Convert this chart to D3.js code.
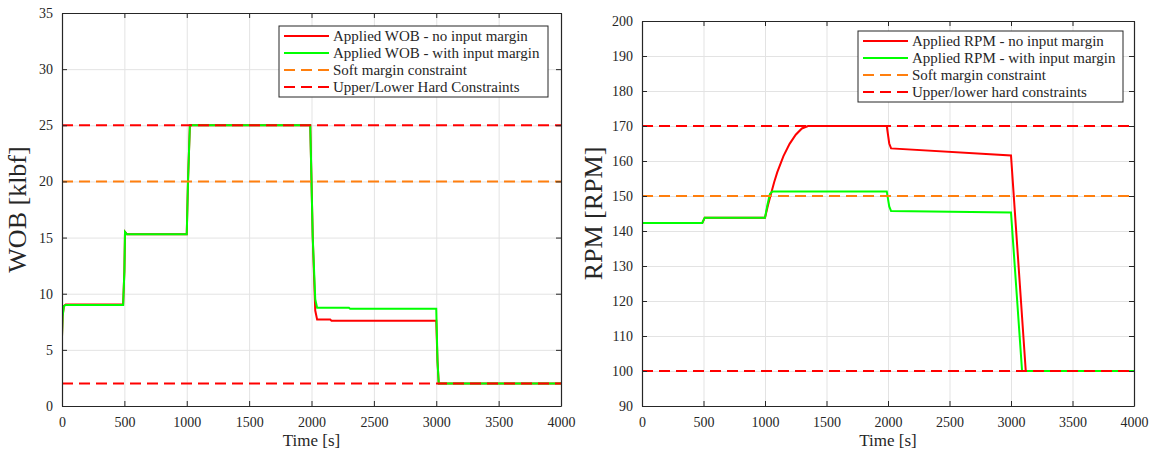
<!DOCTYPE html>
<html>
<head>
<meta charset="utf-8">
<script src="https://cdn.jsdelivr.net/npm/d3@7"></script>
<style>
  body { margin: 0; background: #fff; }
  svg { display: block; }
  .grid line { stroke: #e3e3e3; stroke-width: 1; }
  .grid path { display: none; }
</style>
</head>
<body>
<svg id="chart" width="1158" height="459"></svg>
<script>
// WOB panel data
const wobTimeNo = [0, 5, 15, 30, 490, 500, 505, 520, 1000, 1010, 1025, 1990, 2010, 2030, 2045, 2150, 2160, 3000, 3010, 3020, 4000]
const wobNoMargin = [6.2, 8.0, 8.9, 9.05, 9.05, 12, 15.5, 15.3, 15.3, 20, 25, 25, 15, 8.5, 7.7, 7.7, 7.6, 7.6, 4, 2, 2]
const wobTimeWith = [0, 5, 15, 30, 490, 500, 505, 520, 1000, 1010, 1025, 1990, 2010, 2030, 2045, 2300, 2310, 3000, 3010, 3020, 4000]
const wobWithMargin = [6.2, 8.0, 8.9, 9.0, 9.0, 12, 15.5, 15.3, 15.3, 20, 25, 25, 15, 9.5, 8.75, 8.75, 8.65, 8.65, 4, 2, 2]
const wobSoft = 20
const wobHard = [25, 2]

// RPM panel data
const rpmTimeNo = [0, 490, 510, 1000, 1025, 1050, 1075, 1100, 1150, 1200, 1250, 1300, 1350, 1990, 2010, 2025, 3000, 3120, 4000]
const rpmNoMargin = [142.3, 142.3, 143.8, 143.8, 147.5, 150.8, 154, 156.8, 161.4, 164.9, 167.5, 169.3, 170, 170, 165, 163.6, 161.6, 100, 100]
const rpmTimeWith = [0, 490, 510, 1000, 1020, 1040, 1060, 1990, 2010, 2025, 3000, 3090, 4000]
const rpmWithMargin = [142.3, 142.3, 143.8, 143.8, 147.5, 150.6, 151.3, 151.3, 147, 145.7, 145.3, 100, 100]
const rpmSoft = 150
const rpmHard = [170, 100]

const timeTicks = [0, 500, 1000, 1500, 2000, 2500, 3000, 3500, 4000]
const wobTicks = [0, 5, 10, 15, 20, 25, 30, 35]
const rpmTicks = [90, 100, 110, 120, 130, 140, 150, 160, 170, 180, 190, 200]

const wobLegend = ['Applied WOB - no input margin', 'Applied WOB - with input margin', 'Soft margin constraint', 'Upper/Lower Hard Constraints']
const rpmLegend = ['Applied RPM - no input margin', 'Applied RPM - with input margin', 'Soft margin constraint', 'Upper/lower hard constraints']

const RED = '#ff0000', GREEN = '#00ff00', ORANGE = '#ff7f0e'
const FONT = '"Liberation Serif", "DejaVu Serif", serif'
const INK = '#262626'

const svg = d3.select('#chart')

function drawPanel(opt) {
  const {left, right, top, bottom, yDomain, yTicks, yLabel, labelX,
    tNo, vNo, tWith, vWith, soft, hard, legend, legBox} = opt
  const g = svg.append('g')
  const x = d3.scaleLinear().domain([0, 4000]).range([left, right])
  const y = d3.scaleLinear().domain(yDomain).range([bottom, top])

  // grid
  g.append('g').attr('class', 'grid')
    .attr('transform', `translate(0,${bottom})`)
    .call(d3.axisBottom(x).tickValues(timeTicks).tickSize(-(bottom - top)).tickFormat(''))
  g.append('g').attr('class', 'grid')
    .attr('transform', `translate(${left},0)`)
    .call(d3.axisLeft(y).tickValues(yTicks).tickSize(-(right - left)).tickFormat(''))

  const line = d3.line().x(d => x(d[0])).y(d => y(d[1]))
  const clip = 'clip' + left
  g.append('clipPath').attr('id', clip).append('rect')
    .attr('x', left).attr('y', top).attr('width', right - left).attr('height', bottom - top)
  const plot = g.append('g').attr('clip-path', `url(#${clip})`)

  plot.append('path').datum(d3.zip(tNo, vNo)).attr('d', line)
    .attr('fill', 'none').attr('stroke', RED).attr('stroke-width', 2)
  plot.append('path').datum(d3.zip(tWith, vWith)).attr('d', line)
    .attr('fill', 'none').attr('stroke', GREEN).attr('stroke-width', 2)

  plot.append('line')
    .attr('x1', x(0)).attr('x2', x(4000)).attr('y1', y(soft)).attr('y2', y(soft))
    .attr('stroke', ORANGE).attr('stroke-width', 2).attr('stroke-dasharray', '11,6')
  hard.forEach(h => {
    plot.append('line')
      .attr('x1', x(0)).attr('x2', x(4000)).attr('y1', y(h)).attr('y2', y(h))
      .attr('stroke', RED).attr('stroke-width', 2).attr('stroke-dasharray', '11,6')
  })

  // axes with inward ticks on all sides
  const styleAxis = sel => {
    sel.attr('font-family', FONT)
    sel.select('.domain').attr('stroke', INK).attr('stroke-width', 1.2).attr('fill', 'none')
    sel.selectAll('.tick line').attr('stroke', INK)
    sel.selectAll('.tick text').style('font-family', FONT).style('font-size', '14px').attr('fill', INK)
  }
  const fmt = d3.format('d')
  g.append('g').attr('transform', `translate(0,${bottom})`)
    .call(d3.axisBottom(x).tickValues(timeTicks).tickFormat(fmt).tickSizeInner(-5).tickSizeOuter(0).tickPadding(11))
    .call(styleAxis)
  g.append('g').attr('transform', `translate(0,${top})`)
    .call(d3.axisTop(x).tickValues(timeTicks).tickSizeInner(-5).tickSizeOuter(0).tickFormat(''))
    .call(styleAxis)
  g.append('g').attr('transform', `translate(${left},0)`)
    .call(d3.axisLeft(y).tickValues(yTicks).tickFormat(fmt).tickSizeInner(-5).tickSizeOuter(0).tickPadding(9))
    .call(styleAxis)
  g.append('g').attr('transform', `translate(${right},0)`)
    .call(d3.axisRight(y).tickValues(yTicks).tickSizeInner(-5).tickSizeOuter(0).tickFormat(''))
    .call(styleAxis)

  g.append('text')
    .attr('x', (left + right) / 2).attr('y', 446)
    .attr('text-anchor', 'middle')
    .style('font-family', FONT).style('font-size', '17px').attr('fill', INK)
    .text('Time [s]')
  g.append('text')
    .attr('transform', `translate(${labelX},${(top + bottom) / 2}) rotate(-90)`)
    .attr('text-anchor', 'middle')
    .style('font-family', FONT).style('font-size', '26px').attr('fill', INK)
    .text(yLabel)

  // legend
  const lg = g.append('g')
  lg.append('rect')
    .attr('x', legBox.x).attr('y', legBox.y).attr('width', legBox.w).attr('height', legBox.h)
    .attr('fill', '#fff').attr('stroke', INK).attr('stroke-width', 1)
  const styles = [
    {c: RED, dash: null}, {c: GREEN, dash: null},
    {c: ORANGE, dash: '11,6'}, {c: RED, dash: '11,6'}
  ]
  legend.forEach((name, i) => {
    const ry = legBox.y + 10 + i * 17
    lg.append('line')
      .attr('x1', legBox.x + 5).attr('x2', legBox.x + 50).attr('y1', ry).attr('y2', ry)
      .attr('stroke', styles[i].c).attr('stroke-width', 2)
      .attr('stroke-dasharray', styles[i].dash)
    lg.append('text')
      .attr('x', legBox.x + 54).attr('y', ry).attr('dy', '0.35em')
      .style('font-family', FONT).style('font-size', '15px').attr('fill', INK)
      .text(name)
  })
}

drawPanel({
  left: 62, right: 561, top: 13, bottom: 406,
  yDomain: [0, 35], yTicks: wobTicks, yLabel: 'WOB [klbf]', labelX: 26,
  tNo: wobTimeNo, vNo: wobNoMargin, tWith: wobTimeWith, vWith: wobWithMargin,
  soft: wobSoft, hard: wobHard, legend: wobLegend,
  legBox: {x: 279, y: 26, w: 269, h: 71}
})

drawPanel({
  left: 642, right: 1134, top: 21, bottom: 406,
  yDomain: [90, 200], yTicks: rpmTicks, yLabel: 'RPM [RPM]', labelX: 602,
  tNo: rpmTimeNo, vNo: rpmNoMargin, tWith: rpmTimeWith, vWith: rpmWithMargin,
  soft: rpmSoft, hard: rpmHard, legend: rpmLegend,
  legBox: {x: 858, y: 31, w: 265, h: 71}
})
</script>
</body>
</html>
